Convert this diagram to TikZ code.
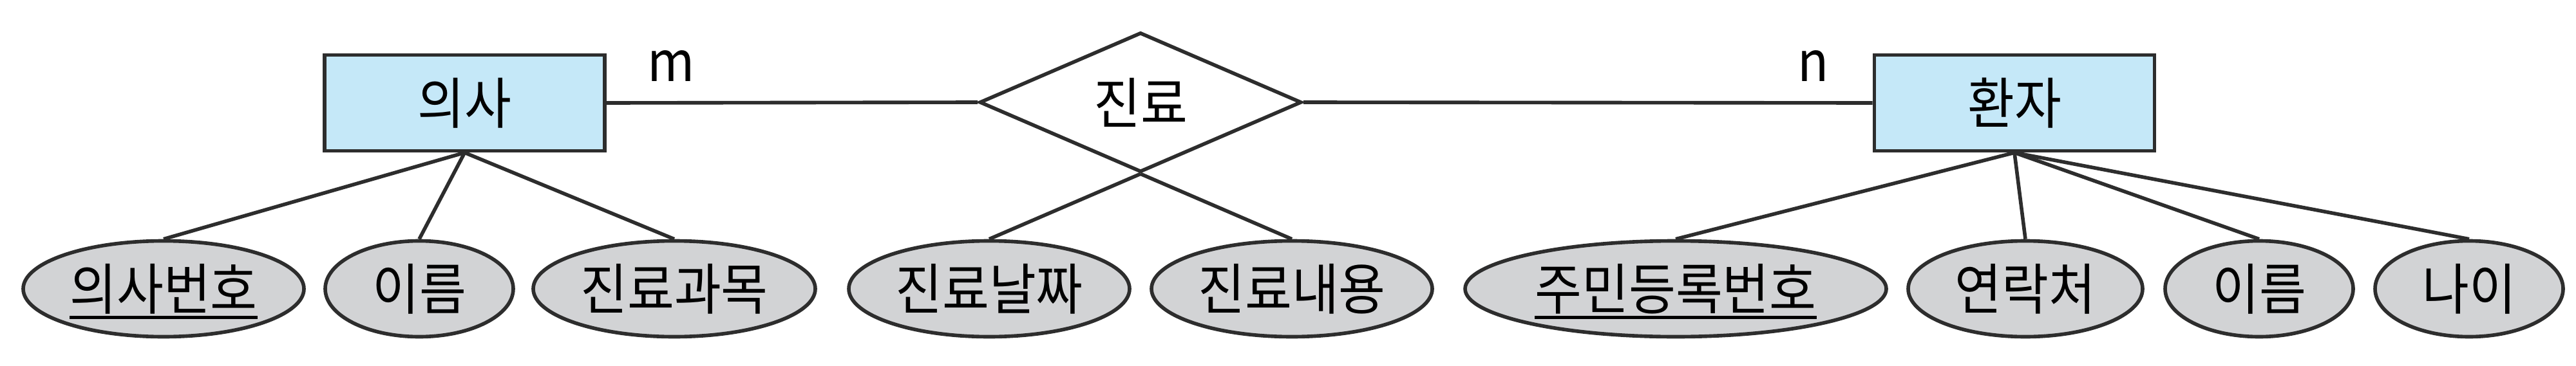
\documentclass[tikz,border=0pt]{standalone}
\usepackage{fontspec}
\newfontfamily\korfont[FakeStretch=0.92]{Noto Sans CJK KR}
\usetikzlibrary{shapes.geometric}

\definecolor{entblue}{RGB}{197,232,248}
\definecolor{attrgray}{RGB}{210,211,213}
\definecolor{linegray}{RGB}{45,45,45}

% sublinhado da chave
\newcommand{\keyline}[1]{\setbox0\hbox{#1}\rlap{\smash{\rule[-0.17em]{\wd0}{1.4pt}}}#1}

\tikzset{
  entity/.style={draw=linegray, line width=1.6pt, fill=entblue,
    minimum width=4.35cm, minimum height=1.49cm, inner sep=0pt},
  relation/.style={diamond, aspect=2.3, draw=linegray, line width=1.6pt,
    fill=white, minimum width=5cm, minimum height=2.17cm, inner sep=0pt},
  attr/.style={ellipse, draw=linegray, line width=1.6pt, fill=attrgray,
    minimum height=1.49cm, inner sep=0pt},
  link/.style={draw=linegray, line width=1.6pt}
}

\begin{document}
\begin{tikzpicture}[font=\korfont\fontsize{24.5pt}{28pt}\selectfont]
  \useasboundingbox (0,0) rectangle (40,5.68);

  % Entidades e relacao
  \node[entity] (doctor) at (7.215,4.08) {의사};
  \node[entity] (patient) at (31.28,4.08) {환자};
  \node[relation] (treat) at (17.71,4.09) {\makebox[0pt]{진료}};

  \draw[link] (doctor.east) -- (treat.west);
  \draw[link] (treat.east) -- (patient.west);

  % Cardinalidades
  \node (card-m) at (10.42,4.65) {m};
  \node (card-n) at (28.16,4.65) {n};

  % Atributos do medico
  \node[attr, minimum width=4.36cm] (docid) at (2.54,1.19) {\makebox[0pt]{\keyline{의사번호}}};
  \node[attr, minimum width=2.92cm] (docname) at (6.51,1.19) {\makebox[0pt]{이름}};
  \node[attr, minimum width=4.38cm] (docdept) at (10.47,1.19) {\makebox[0pt]{진료과목}};

  % Atributos da relacao
  \node[attr, minimum width=4.36cm] (tdate) at (15.36,1.19) {\makebox[0pt]{진료날짜}};
  \node[attr, minimum width=4.36cm] (tnote) at (20.06,1.19) {\makebox[0pt]{진료내용}};

  % Atributos do paciente
  \node[attr, minimum width=6.54cm] (patid) at (26.02,1.19) {\makebox[0pt]{\keyline{주민등록번호}}};
  \node[attr, minimum width=3.64cm] (patphone) at (31.45,1.19) {\makebox[0pt]{연락처}};
  \node[attr, minimum width=2.92cm] (patname) at (35.08,1.19) {\makebox[0pt]{이름}};
  \node[attr, minimum width=2.92cm] (patage) at (38.34,1.19) {\makebox[0pt]{나이}};

  \foreach \a in {docid,docname,docdept}
    \draw[link] (doctor.south) -- (\a.north);
  \foreach \a in {tdate,tnote}
    \draw[link] (treat.south) -- (\a.north);
  \foreach \a in {patid,patphone,patname,patage}
    \draw[link] (patient.south) -- (\a.north);
\end{tikzpicture}
\end{document}
